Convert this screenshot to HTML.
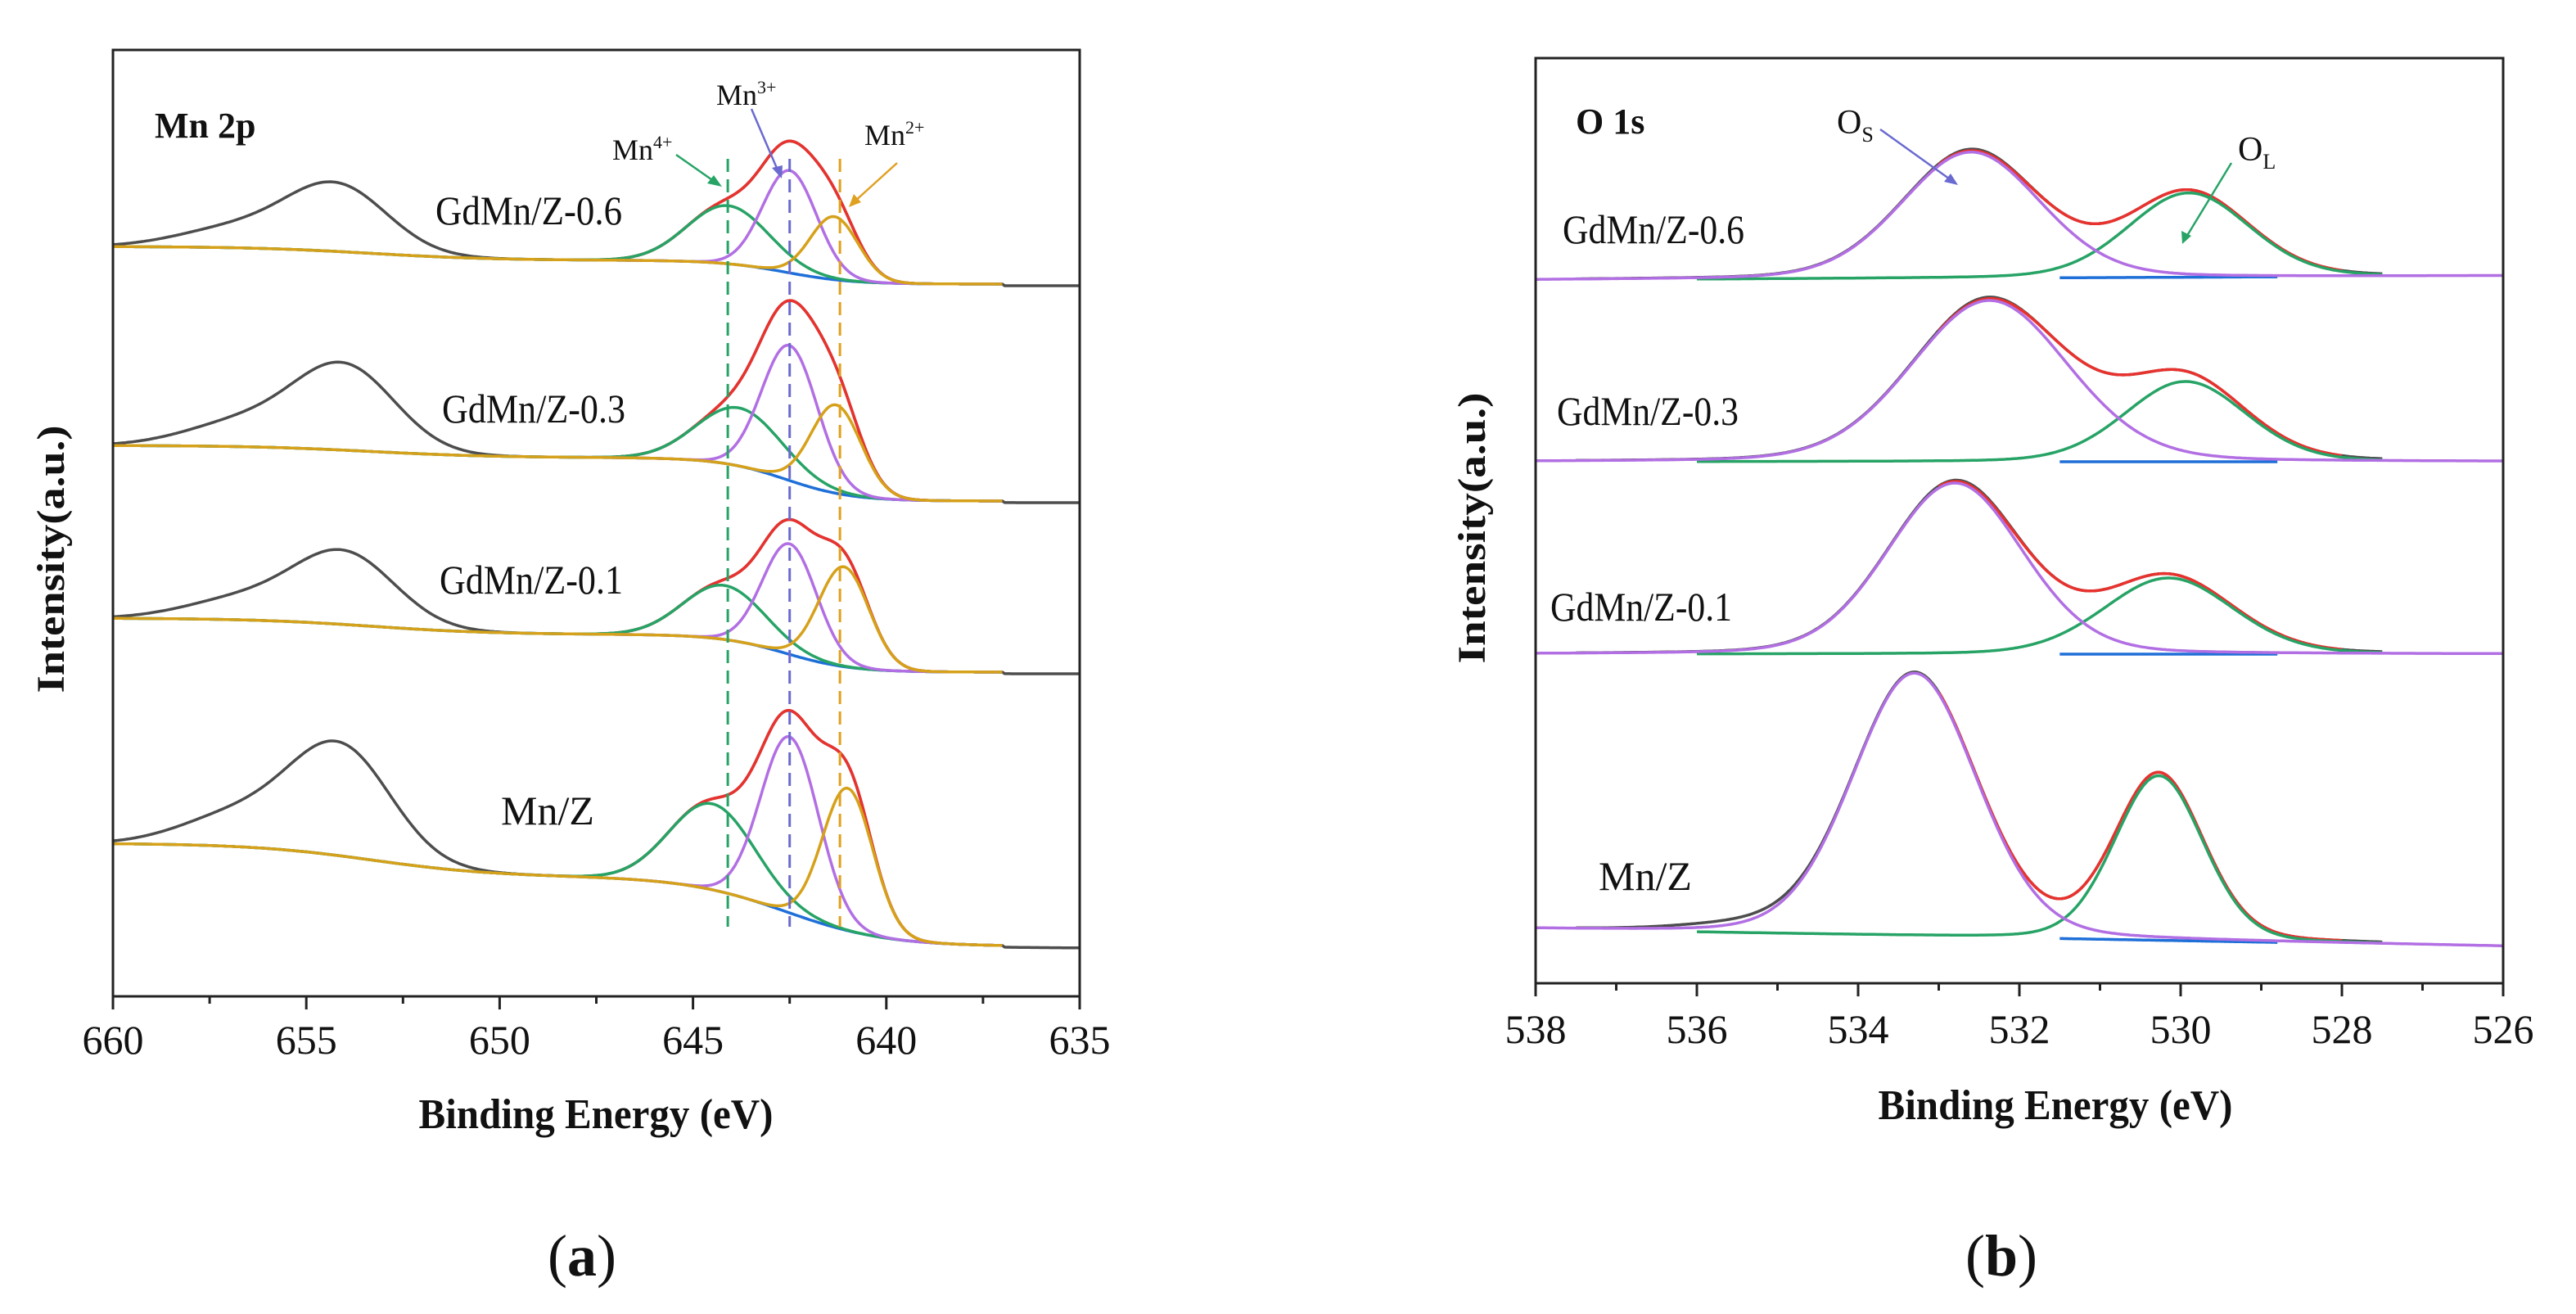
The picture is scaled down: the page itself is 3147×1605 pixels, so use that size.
<!DOCTYPE html>
<html><head><meta charset="utf-8"><style>
html,body{margin:0;padding:0;background:#fff}
svg{display:block}
text{font-family:"Liberation Serif",serif;fill:#111}
</style></head><body>
<svg id="fig" width="3147" height="1605" viewBox="0 0 3147 1605" xmlns="http://www.w3.org/2000/svg">
<rect x="0" y="0" width="3147" height="1605" fill="#fff"/>
<g id="pa"></g>
<g id="pb"></g>
<g>
  <text x="189" y="168" font-size="44" font-weight="bold">Mn 2p</text>
  <text x="532" y="274" font-size="50" textLength="228" lengthAdjust="spacingAndGlyphs">GdMn/Z-0.6</text>
  <text x="540" y="516" font-size="50" textLength="224" lengthAdjust="spacingAndGlyphs">GdMn/Z-0.3</text>
  <text x="537" y="725" font-size="50" textLength="224" lengthAdjust="spacingAndGlyphs">GdMn/Z-0.1</text>
  <text x="612" y="1007" font-size="50">Mn/Z</text>
  <text x="748" y="195" font-size="36">Mn<tspan dy="-14" font-size="22">4+</tspan></text>
  <text x="875" y="128" font-size="36">Mn<tspan dy="-14" font-size="22">3+</tspan></text>
  <text x="1056" y="177" font-size="36">Mn<tspan dy="-14" font-size="22">2+</tspan></text>
  <line x1="826" y1="189" x2="876" y2="224" stroke="#27a366" stroke-width="2.5"/>
  <polygon points="882,228 864,224 872,214" fill="#27a366"/>
  <line x1="918" y1="133" x2="951" y2="210" stroke="#6a6ad0" stroke-width="2.5"/>
  <polygon points="955,218 943,205 956,202" fill="#6a6ad0"/>
  <line x1="1096" y1="199" x2="1043" y2="247" stroke="#e0a020" stroke-width="2.5"/>
  <polygon points="1037,253 1043,237 1052,247" fill="#e0a020"/>
  <text x="728" y="1378" font-size="52" font-weight="bold" text-anchor="middle" textLength="433" lengthAdjust="spacingAndGlyphs">Binding Energy (eV)</text>
  <text transform="translate(78,683) rotate(-90)" font-size="48" font-weight="bold" text-anchor="middle" textLength="327" lengthAdjust="spacingAndGlyphs">Intensity(a.u.)</text>
  <text x="711" y="1558" font-size="72" text-anchor="middle">(<tspan font-weight="bold">a</tspan>)</text>
</g>
<g>
  <text x="1925" y="163" font-size="44" font-weight="bold">O 1s</text>
  <text x="1909" y="297" font-size="50" textLength="222" lengthAdjust="spacingAndGlyphs">GdMn/Z-0.6</text>
  <text x="1902" y="519" font-size="50" textLength="222" lengthAdjust="spacingAndGlyphs">GdMn/Z-0.3</text>
  <text x="1894" y="758" font-size="50" textLength="222" lengthAdjust="spacingAndGlyphs">GdMn/Z-0.1</text>
  <text x="1953" y="1087" font-size="50">Mn/Z</text>
  <text x="2244" y="163" font-size="42">O<tspan dy="10" font-size="26">S</tspan></text>
  <text x="2734" y="196" font-size="42">O<tspan dy="10" font-size="26">L</tspan></text>
  <line x1="2297" y1="158" x2="2385" y2="221" stroke="#6a6ad0" stroke-width="2.5"/>
  <polygon points="2392,226 2375,222 2383,212" fill="#6a6ad0"/>
  <line x1="2726" y1="199" x2="2670" y2="291" stroke="#27a366" stroke-width="2.5"/>
  <polygon points="2666,298 2665,282 2677,288" fill="#27a366"/>
  <text x="2511" y="1367" font-size="52" font-weight="bold" text-anchor="middle" textLength="433" lengthAdjust="spacingAndGlyphs">Binding Energy (eV)</text>
  <text transform="translate(1814,645) rotate(-90)" font-size="48" font-weight="bold" text-anchor="middle" textLength="331" lengthAdjust="spacingAndGlyphs">Intensity(a.u.)</text>
  <text x="2445" y="1558" font-size="72" text-anchor="middle">(<tspan font-weight="bold">b</tspan>)</text>
</g>
</svg>
<script>
// ---------- Panel A data (Mn 2p) ----------
const mnSamples = ['GdMn/Z-0.6','GdMn/Z-0.3','GdMn/Z-0.1','Mn/Z'];
const mnBaseLeft = [916, 673, 462, 187];
const mnBaseMid = [899, 658, 442, 146];
const mnBaseRight = [870, 605, 396, 61];
const mnSatCenter = [654.2, 654.0, 654.0, 654.1];
const mnSatAmp = [79, 100, 85, 130];
const mn4Center = [644.1, 643.8, 644.2, 644.5];
const mn4Amp = [71, 71, 66, 105];
const mn4Sigma = [1.05, 1.1, 1.05, 1.1];
const mn3Center = [642.5, 642.5, 642.5, 642.5];
const mn3Amp = [125, 165, 135, 215];
const mn3Sigma = [0.7, 0.72, 0.7, 0.75];
const mn2Center = [641.35, 641.3, 641.1, 641.0];
const mn2Amp = [77, 108, 122, 174];
const mn2Sigma = [0.62, 0.65, 0.65, 0.65];
const mnTicks = [660, 655, 650, 645, 640, 635];
const mnRefLines = [644.1, 642.5, 641.2];

// ---------- Panel B data (O 1s) ----------
const oSamples = ['GdMn/Z-0.6','GdMn/Z-0.3','GdMn/Z-0.1','Mn/Z'];
const oBaseLeft = [859, 637, 402, 66];
const oBaseRight = [864, 637, 402, 45];
const osCenter = [532.6, 532.37, 532.8, 533.3];
const osAmp = [154, 197, 209, 321];
const osSigma = [0.86, 0.97, 0.84, 0.77];
const olCenter = [529.9, 529.94, 530.15, 530.27];
const olAmp = [103, 98, 93, 201];
const olSigma = [0.75, 0.75, 0.8, 0.55];
const oTicks = [538, 536, 534, 532, 530, 528, 526];

const NS = 'http://www.w3.org/2000/svg';
function mk(parent, tag, attrs, txt){
  const e = document.createElementNS(NS, tag);
  for (const k in attrs) e.setAttribute(k, attrs[k]);
  if (txt !== undefined) e.textContent = txt;
  parent.appendChild(e); return e;
}
const sig = t => 1/(1+Math.exp(-t));
const gauss = (E,c,s) => Math.exp(-((E-c)*(E-c))/(2*s*s));
const pv = (E,c,s) => 0.85*gauss(E,c,s) + 0.15/(1+((E-c)/(1.2*s))**2);

const C = {raw:'#4d4d4d', red:'#e8322e', blue:'#1f6fd8', green:'#27a366', purple:'#b26fe3', orange:'#d6a11a'};

const A = {x0:138, x1:1319, y0:61, y1:1217, e0:660, e1:635};
const ax = E => A.x0 + (A.e0 - E) * (A.x1 - A.x0) / (A.e0 - A.e1);
const ay = v => A.y1 - v;

function pathFrom(fn, eStart, eEnd, xs, ys){
  let d = ''; const n = 400;
  for (let i=0;i<=n;i++){ const E = eStart + (eEnd-eStart)*i/n; d += (i?'L':'M') + xs(E).toFixed(1) + ',' + ys(fn(E)).toFixed(1); }
  return d;
}

const pa = document.getElementById('pa');
mnSamples.forEach((name, i) => {
  const stepW = i === 3 ? 1.3 : 0.85;
  const base = E => mnBaseRight[i] + (mnBaseMid[i]-mnBaseRight[i])*sig((E-642.6)/stepW) + (mnBaseLeft[i]-mnBaseMid[i])*sig((E-653.3)/1.6);
  const p4 = E => mn4Amp[i]*gauss(E, mn4Center[i], mn4Sigma[i]);
  const p3 = E => mn3Amp[i]*gauss(E, mn3Center[i], mn3Sigma[i]);
  const p2 = E => mn2Amp[i]*gauss(E, mn2Center[i], mn2Sigma[i]);
  const sat = E => mnSatAmp[i]*(gauss(E, mnSatCenter[i], 1.3) + 0.3*gauss(E, mnSatCenter[i]+2.6, 1.5));
  const env = E => base(E) + p4(E) + p3(E) + p2(E);
  const raw = E => env(E) + sat(E) - (E < 637 ? 2 : 0);
  const g = mk(pa, 'g', {});
  
  
  const common = {fill:'none', 'stroke-width':3.5, 'stroke-linejoin':'round'};
  let e;
  e = mk(g, 'path', Object.assign({d:pathFrom(raw, 660, 635, ax, ay), stroke:C.raw}, common));
   
  e = mk(g, 'path', Object.assign({d:pathFrom(env, 647, 637, ax, ay), stroke:C.red}, common));
   
  e = mk(g, 'path', Object.assign({d:pathFrom(base, 660, 637, ax, ay), stroke:C.blue}, common));
   
  e = mk(g, 'path', Object.assign({d:pathFrom(E => base(E)+p4(E), 660, 637, ax, ay), stroke:C.green}, common));
   
  e = mk(g, 'path', Object.assign({d:pathFrom(E => base(E)+p3(E), 647, 637, ax, ay), stroke:C.purple}, common));
   
  e = mk(g, 'path', Object.assign({d:pathFrom(E => base(E)+p2(E), 660, 637, ax, ay), stroke:C.orange}, common));
   
});
const refCols = [C.green, '#6a6ad0', '#e0a020'];
mnRefLines.forEach((E, k) => {
  const l = mk(pa, 'line', {x1:ax(E), x2:ax(E), y1:194, y2:1132, stroke:refCols[k], 'stroke-width':3, 'stroke-dasharray':'16,9'});
  
  
});
{
  const f = mk(pa, 'rect', {x:A.x0, y:A.y0, width:A.x1-A.x0, height:A.y1-A.y0, fill:'none', stroke:'#222', 'stroke-width':3});
   
  for (let E = 660; E >= 635; E -= 2.5) {
    const major = Math.abs(E % 5) < 1e-6;
    const t = mk(pa, 'line', {x1:ax(E), x2:ax(E), y1:A.y1, y2:A.y1 + (major ? 16 : 9), stroke:'#222', 'stroke-width':3});
     
  }
  mnTicks.forEach(v => {
    const t = mk(pa, 'text', {x:ax(v), y:1287, 'font-size':50, 'text-anchor':'middle'}, String(v));
     
  });
}

const B = {x0:1876, x1:3058, y0:71, y1:1201, e0:538, e1:526};
const bx = E => B.x0 + (B.e0 - E) * (B.x1 - B.x0) / (B.e0 - B.e1);
const by = v => B.y1 - v;
const pb = document.getElementById('pb');
oSamples.forEach((name, i) => {
  const base = E => oBaseRight[i] + (oBaseLeft[i]-oBaseRight[i])*(E-526)/12;
  const os = E => osAmp[i]*pv(E, osCenter[i], osSigma[i]);
  const ol = E => olAmp[i]*pv(E, olCenter[i], olSigma[i]);
  const env = E => base(E) + os(E) + ol(E);
  const raw = E => env(E) + (i===3 ? 6*gauss(E,535.5,0.7) : 2*gauss(E,532.5,0.4));
  const g = mk(pb, 'g', {});
  
  
  const common = {fill:'none', 'stroke-width':3.5, 'stroke-linejoin':'round'};
  let e;
  e = mk(g, 'path', Object.assign({d:pathFrom(raw, 537.5, 527.5, bx, by), stroke:C.raw}, common));
   
  e = mk(g, 'path', Object.assign({d:pathFrom(env, 533, 528, bx, by), stroke:C.red}, common));
   
  e = mk(g, 'path', Object.assign({d:pathFrom(base, 531.5, 528.8, bx, by), stroke:C.blue}, common));
   
  e = mk(g, 'path', Object.assign({d:pathFrom(E => base(E)+ol(E), 536, 527.5, bx, by), stroke:C.green}, common));
   
  e = mk(g, 'path', Object.assign({d:pathFrom(E => base(E)+os(E), 538, 526, bx, by), stroke:C.purple}, common));
   
});
{
  const f = mk(pb, 'rect', {x:B.x0, y:B.y0, width:B.x1-B.x0, height:B.y1-B.y0, fill:'none', stroke:'#222', 'stroke-width':3});
   
  for (let E = 538; E >= 526; E -= 1) {
    const major = E % 2 === 0;
    const t = mk(pb, 'line', {x1:bx(E), x2:bx(E), y1:B.y1, y2:B.y1 + (major ? 16 : 9), stroke:'#222', 'stroke-width':3});
     
  }
  oTicks.forEach(v => {
    const t = mk(pb, 'text', {x:bx(v), y:1274, 'font-size':50, 'text-anchor':'middle'}, String(v));
     
  });
}
</script>
</body></html>
